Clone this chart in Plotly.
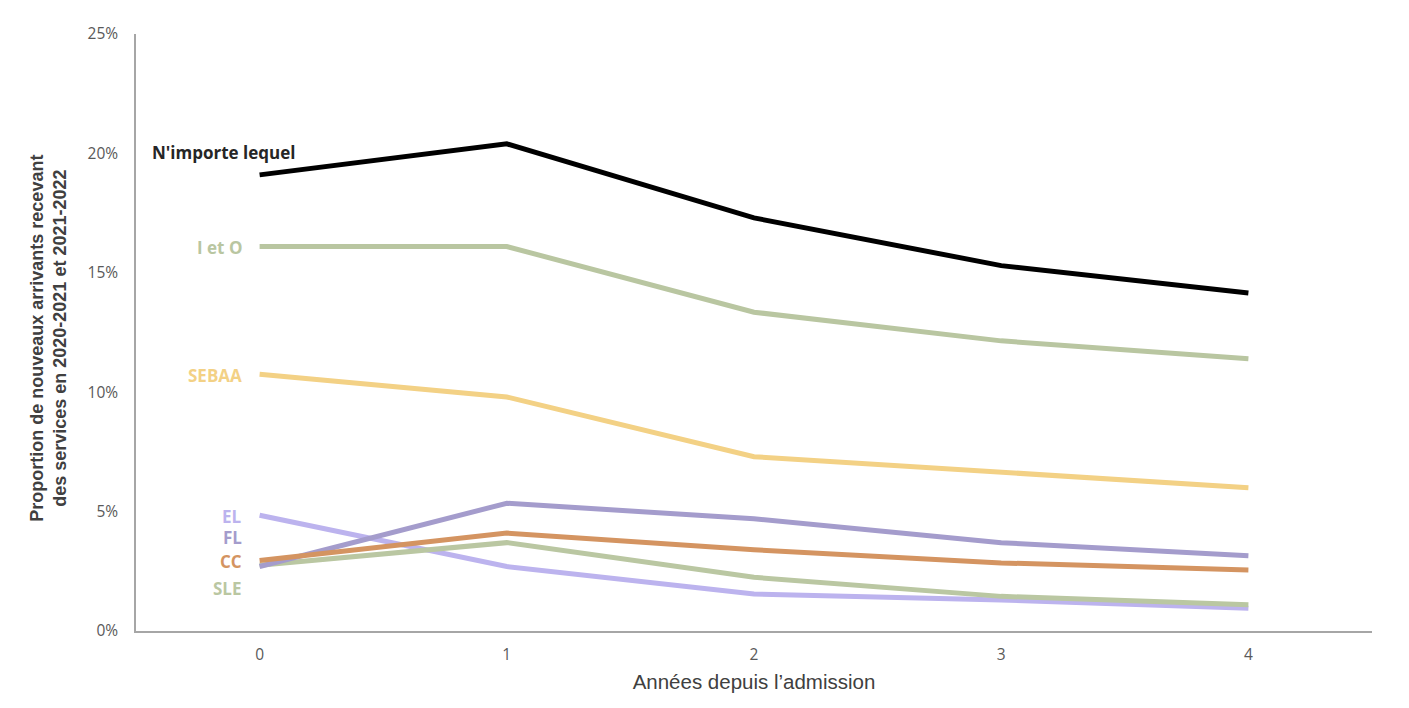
import plotly.graph_objects as go

years = [0, 1, 2, 3, 4]
year_labels = ["0", "1", "2", "3", "4"]

any_service = [19.1, 20.4, 17.3, 15.3, 14.15]
i_et_o = [16.1, 16.1, 13.35, 12.15, 11.4]
sebaa = [10.75, 9.8, 7.3, 6.65, 6.0]
fl = [2.7, 5.35, 4.7, 3.7, 3.15]
cc = [2.95, 4.1, 3.4, 2.85, 2.55]
sle = [2.75, 3.7, 2.25, 1.45, 1.1]
el = [4.85, 2.7, 1.55, 1.3, 0.95]

series = [
    ("EL", el, "#bcb3ee", 4.8),
    ("SLE", sle, "#bac7a2", 1.8),
    ("FL", fl, "#a49ccc", 3.9),
    ("CC", cc, "#d49461", 2.93),
    ("SEBAA", sebaa, "#f3d185", 10.7),
    ("I et O", i_et_o, "#b9c6a1", 16.08),
    ("N'importe lequel", any_service, "#000000", 20.05),
]

fig = go.Figure()
for name, vals, color, ly in series:
    fig.add_trace(go.Scatter(x=years, y=vals, mode="lines", name=name,
                             line=dict(color=color, width=5), showlegend=False))

annotations = []
for name, vals, color, ly in series:
    if name == "N'importe lequel":
        annotations.append(dict(x=0, y=ly, xref="x", yref="y", text="<b>" + name + "</b>",
                                showarrow=False, xanchor="center", xshift=-36,
                                font=dict(family="Open Sans, Noto Sans, sans-serif", size=17, color="#262626")))
    else:
        annotations.append(dict(x=0, y=ly, xref="x", yref="y", text="<b>" + name + "</b>",
                                showarrow=False, xanchor="right", xshift=-16,
                                font=dict(family="Open Sans, Noto Sans, sans-serif", size=17, color=color)))

annotations.append(dict(x=-0.071, y=0.49, xref="paper", yref="paper",
                        text="<b>Proportion de nouveaux arrivants recevant<br>des services en 2020-2021 et 2021-2022</b>",
                        showarrow=False, textangle=-90, xanchor="center", yanchor="middle",
                        font=dict(family="Liberation Sans, Arial, sans-serif", size=18, color="#404040")))

fig.update_layout(
    width=1409, height=708,
    margin=dict(l=128, r=45, t=26, b=85),
    plot_bgcolor="white", paper_bgcolor="white",
    annotations=annotations,
    xaxis=dict(range=[-0.5, 4.5], tickmode="array", tickvals=years, ticktext=year_labels,
               showgrid=False, zeroline=False, showline=True, linecolor="#a6a6a6", linewidth=1.5,
               ticks="", ticklabelstandoff=9,
               tickfont=dict(family="Open Sans, Noto Sans, sans-serif", size=15.5, color="#595959"),
               title=dict(text="Années depuis l’admission", standoff=10,
                          font=dict(family="Liberation Sans, Arial, sans-serif", size=20.5, color="#404040"))),
    yaxis=dict(range=[0, 25], tickvals=[0, 5, 10, 15, 20, 25],
               ticktext=["0%", "5%", "10%", "15%", "20%", "25%"],
               showgrid=False, zeroline=False, showline=True, linecolor="#a6a6a6", linewidth=1.5,
               ticks="", ticklabelstandoff=13,
               tickfont=dict(family="Open Sans, Noto Sans, sans-serif", size=15.5, color="#595959")),
)

fig.write_html("out.html")
